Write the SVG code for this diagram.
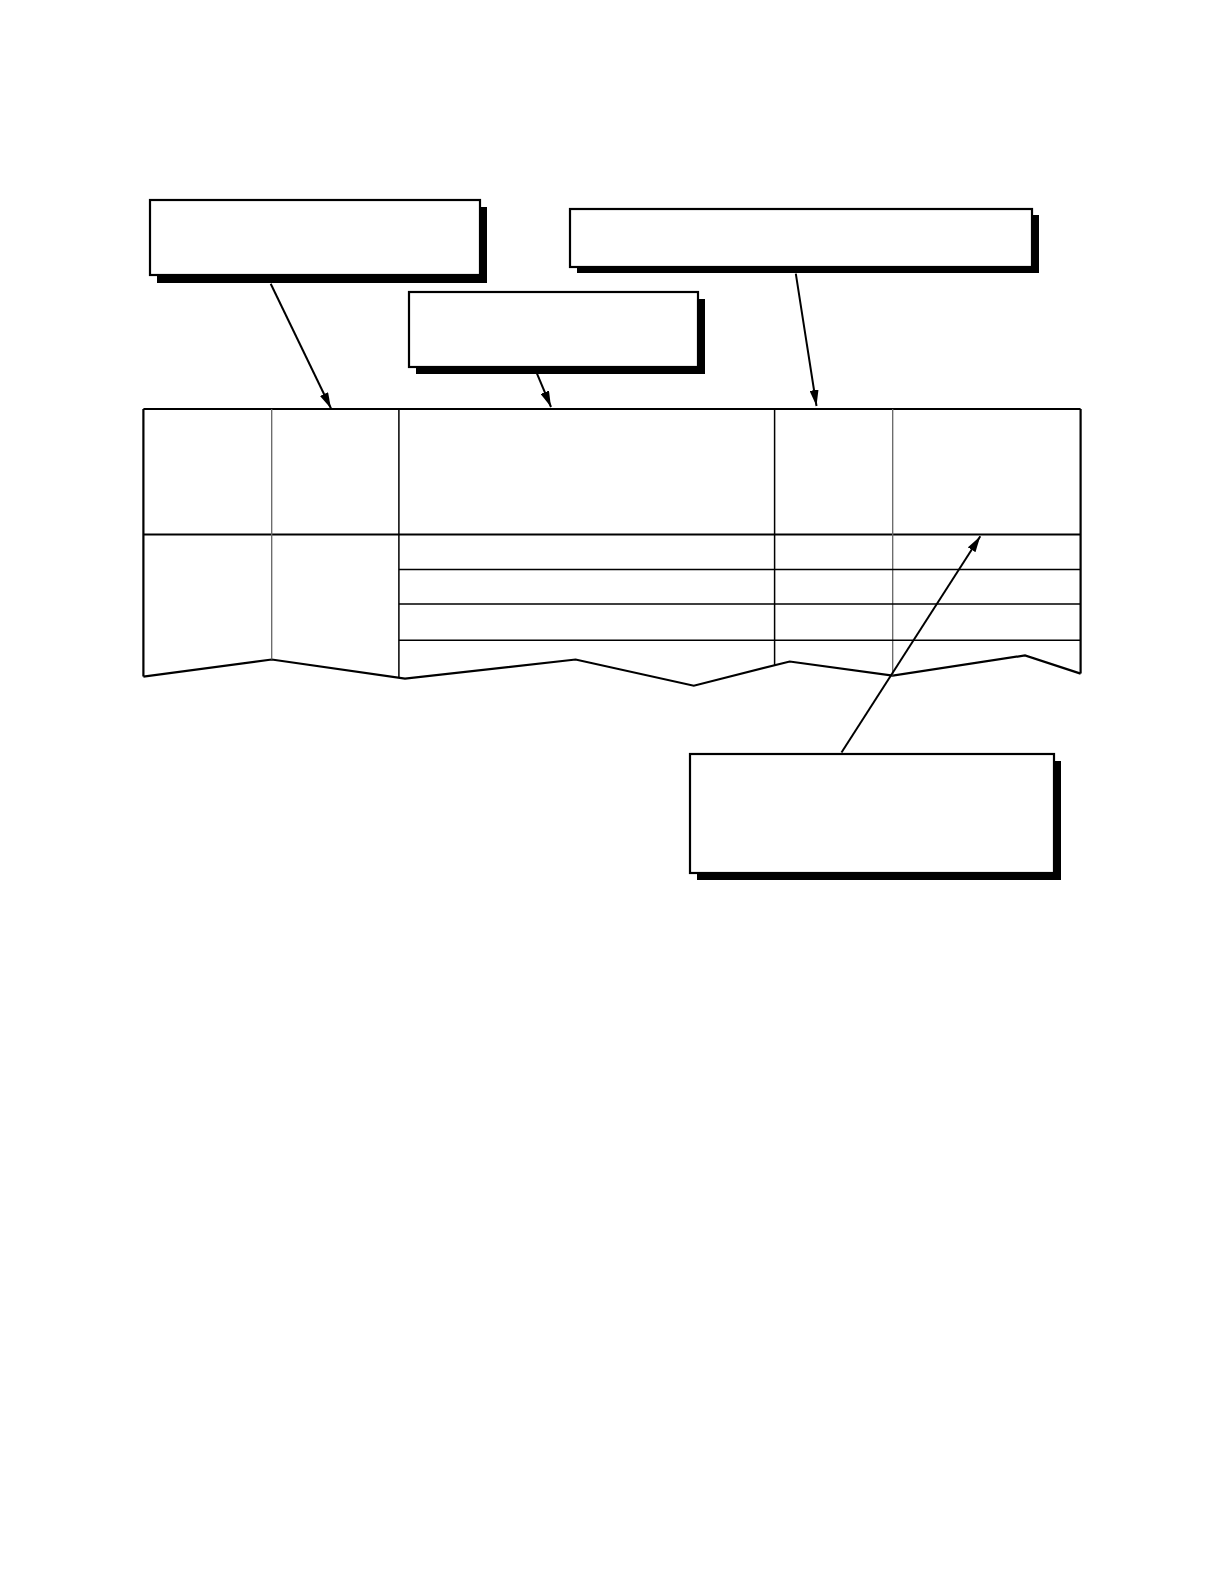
<svg xmlns="http://www.w3.org/2000/svg" width="1224" height="1584" viewBox="0 0 1224 1584">
<style>
.shadow{fill:#000;stroke:none}
.box{fill:#fff;stroke:#000;stroke-width:2.2}
.thick{stroke:#000;stroke-width:2.2;fill:none}
.mid{stroke:#000;stroke-width:1.5;fill:none}
.grey{stroke:#666;stroke-width:1.3;fill:none}
.conn{stroke:#000;stroke-width:2;fill:none;marker-end:url(#ah)}
</style>
<defs>
<marker id="ah" viewBox="0 0 16 9" refX="16" refY="4.5" markerWidth="16" markerHeight="9" markerUnits="userSpaceOnUse" orient="auto">
<path d="M0,0 L16,4.5 L0,9 Z" fill="#000"/>
</marker>
</defs>
<rect width="1224" height="1584" fill="#fff"/>
<g id="callout-1">
<rect class="shadow" x="157" y="207" width="330" height="76"/>
<rect class="box" x="150" y="200" width="330" height="75"/>
</g>
<g id="callout-2">
<rect class="shadow" x="577" y="215" width="462" height="58"/>
<rect class="box" x="570" y="209" width="462" height="58"/>
</g>
<g id="callout-3">
<rect class="shadow" x="416" y="299" width="289" height="75"/>
<rect class="box" x="409" y="292" width="289" height="75"/>
</g>
<g id="callout-4">
<rect class="shadow" x="697" y="761" width="364" height="119"/>
<rect class="box" x="690" y="754" width="364" height="119"/>
</g>
<g id="table">
<path class="thick" d="M143.4,409 H1080.6 M143.4,534.5 H1080.6 M143.4,409 V676.6 M1080.6,409 V673.6"/>
<path class="thick" d="M143.4,676.6 L271.7,659.5 L405,678.7 L575.6,659.5 L693.8,685.7 L789.7,661.5 L892.7,675.6 L1025,655.4 L1080.6,673.6"/>
<path class="mid" d="M398.9,409 V677.8 M774.6,409 V665.3"/>
<path class="grey" d="M271.7,409 V659.5 M892.7,409 V675.6"/>
<path class="mid" d="M398.9,569.6 H1080.6 M398.9,603.9 H1080.6 M398.9,640.3 H1080.6"/>
</g>
<g id="connectors">
<line class="conn" x1="270.7" y1="283.8" x2="331" y2="408.5"/>
<line class="conn" x1="537" y1="373.7" x2="551" y2="407"/>
<line class="conn" x1="795.8" y1="273.7" x2="816.5" y2="406"/>
<line class="conn" x1="841.5" y1="752.5" x2="980.3" y2="536.3"/>
</g>
</svg>
